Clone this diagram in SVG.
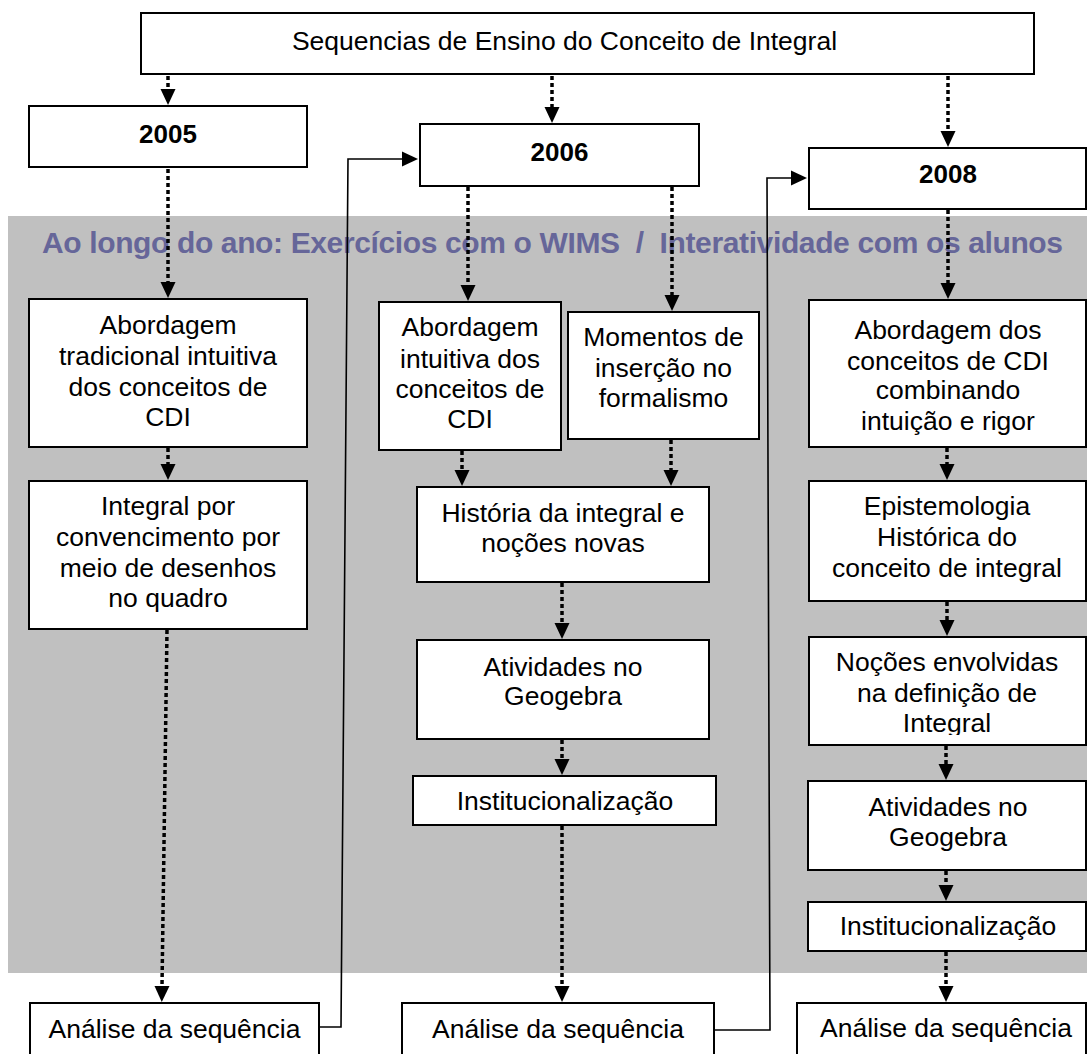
<svg xmlns="http://www.w3.org/2000/svg" width="1087" height="1054" viewBox="0 0 1087 1054">
  <style>
    .box { fill: #ffffff; stroke: #000000; stroke-width: 2; }
    .lbl { font-family: "Liberation Sans", Arial, sans-serif; font-size: 26.5px; fill: #000000; text-anchor: middle; }
    .year { font-family: "Liberation Sans", Arial, sans-serif; font-size: 26px; font-weight: bold; fill: #000000; text-anchor: middle; }
    .banner { font-family: "Liberation Sans", Arial, sans-serif; font-size: 30px; font-weight: bold; fill: #666699; }
    .dot { fill: none; stroke: #000000; stroke-width: 3.5; stroke-dasharray: 4 3; marker-end: url(#head); }
    .solid { fill: none; stroke: #000000; stroke-width: 1.6; marker-end: url(#head); }
  </style>
  <defs>
    <marker id="head" markerUnits="userSpaceOnUse" markerWidth="16" markerHeight="16" refX="0" refY="7.5" orient="auto" overflow="visible">
      <path d="M0,0 L16,7.5 L0,15 z" fill="#000000"/>
    </marker>
    <clipPath id="clipNocoes">
      <rect x="809" y="637" width="278" height="98"/>
    </clipPath>
  </defs>

  <rect width="1087" height="1054" fill="#ffffff"/>

  <!-- shaded band: work carried out all year -->
  <rect x="8" y="216" width="1079" height="757" fill="#c0c0c0"/>
  <text class="banner" x="42" y="253" textLength="1021" lengthAdjust="spacing" xml:space="preserve">Ao longo do ano: Exercícios com o WIMS  /  Interatividade com os alunos</text>

  <!-- connectors -->
  <g id="connectors">
    <path class="dot" d="M168,76 V89"/>
    <path class="dot" d="M552,76 V107"/>
    <path class="dot" d="M948,76 V131"/>
    <path class="dot" d="M168,169 V282"/>
    <path class="dot" d="M468,187 V285"/>
    <path class="dot" d="M672,187 V295"/>
    <path class="dot" d="M948,210 V283"/>
    <path class="dot" d="M168,448 V464"/>
    <path class="dot" d="M167,630 L162,986"/>
    <path class="dot" d="M462,451 V470"/>
    <path class="dot" d="M671,440 V470"/>
    <path class="dot" d="M562,583 V623"/>
    <path class="dot" d="M562,740 V759"/>
    <path class="dot" d="M562,826 V986"/>
    <path class="dot" d="M947,448 V464"/>
    <path class="dot" d="M947,602 V620"/>
    <path class="dot" d="M946,746 V764"/>
    <path class="dot" d="M946,871 V885"/>
    <path class="dot" d="M946,952 V986"/>
    <path class="solid" d="M319,1027 H341 L348,159 H402"/>
    <path class="solid" d="M714,1030 H770 L767,178 H791"/>
  </g>

  <!-- title -->
  <g id="title">
    <rect class="box" x="141" y="13" width="893" height="61"/>
    <text class="lbl" x="564.5" y="50">Sequencias de Ensino do Conceito de Integral</text>
  </g>

  <!-- 2005 column -->
  <g id="y2005">
    <rect class="box" x="29" y="106" width="278" height="61"/>
    <text class="year" x="168" y="143">2005</text>
  </g>
  <g id="abordagem2005">
    <rect class="box" x="29" y="299" width="278" height="148"/>
    <text class="lbl" x="168" y="334">Abordagem</text>
    <text class="lbl" x="168" y="365">tradicional intuitiva</text>
    <text class="lbl" x="168" y="396">dos conceitos de</text>
    <text class="lbl" x="168" y="426">CDI</text>
  </g>
  <g id="integral2005">
    <rect class="box" x="29" y="481" width="278" height="148"/>
    <text class="lbl" x="168" y="515">Integral por</text>
    <text class="lbl" x="168" y="546">convencimento por</text>
    <text class="lbl" x="168" y="577">meio de desenhos</text>
    <text class="lbl" x="168" y="607">no quadro</text>
  </g>
  <g id="analise2005">
    <rect class="box" x="30" y="1003" width="289" height="60"/>
    <text class="lbl" x="174.5" y="1038">Análise da sequência</text>
  </g>

  <!-- 2006 column -->
  <g id="y2006">
    <rect class="box" x="420" y="124" width="279" height="62"/>
    <text class="year" x="559.5" y="161">2006</text>
  </g>
  <g id="abordagem2006">
    <rect class="box" x="379" y="302" width="182" height="148"/>
    <text class="lbl" x="470" y="336">Abordagem</text>
    <text class="lbl" x="470" y="368">intuitiva dos</text>
    <text class="lbl" x="470" y="398">conceitos de</text>
    <text class="lbl" x="470" y="428">CDI</text>
  </g>
  <g id="momentos2006">
    <rect class="box" x="568" y="312" width="191" height="127"/>
    <text class="lbl" x="663.5" y="346">Momentos de</text>
    <text class="lbl" x="663.5" y="377">inserção no</text>
    <text class="lbl" x="663.5" y="407">formalismo</text>
  </g>
  <g id="historia2006">
    <rect class="box" x="417" y="487" width="292" height="95"/>
    <text class="lbl" x="563" y="522">História da integral e</text>
    <text class="lbl" x="563" y="552">noções novas</text>
  </g>
  <g id="geogebra2006">
    <rect class="box" x="417" y="640" width="292" height="99"/>
    <text class="lbl" x="563" y="676">Atividades no</text>
    <text class="lbl" x="563" y="705">Geogebra</text>
  </g>
  <g id="institucional2006">
    <rect class="box" x="413" y="776" width="303" height="49"/>
    <text class="lbl" x="565" y="810">Institucionalização</text>
  </g>
  <g id="analise2006">
    <rect class="box" x="402" y="1003" width="312" height="60"/>
    <text class="lbl" x="558" y="1038">Análise da sequência</text>
  </g>

  <!-- 2008 column -->
  <g id="y2008">
    <rect class="box" x="809" y="148" width="277" height="61"/>
    <text class="year" x="948" y="183">2008</text>
  </g>
  <g id="abordagem2008">
    <rect class="box" x="809" y="300" width="277" height="147"/>
    <text class="lbl" x="948" y="339">Abordagem dos</text>
    <text class="lbl" x="948" y="370">conceitos de CDI</text>
    <text class="lbl" x="948" y="399">combinando</text>
    <text class="lbl" x="948" y="430">intuição e rigor</text>
  </g>
  <g id="epistemologia2008">
    <rect class="box" x="809" y="481" width="277" height="120"/>
    <text class="lbl" x="947" y="515">Epistemologia</text>
    <text class="lbl" x="947" y="546">Histórica do</text>
    <text class="lbl" x="947" y="577">conceito de integral</text>
  </g>
  <g id="nocoes2008">
    <rect class="box" x="809" y="637" width="277" height="108"/>
    <g clip-path="url(#clipNocoes)">
      <text class="lbl" x="947" y="671">Noções envolvidas</text>
      <text class="lbl" x="947" y="702">na definição de</text>
      <text class="lbl" x="947" y="732">Integral</text>
    </g>
  </g>
  <g id="geogebra2008">
    <rect class="box" x="808" y="781" width="278" height="89"/>
    <text class="lbl" x="948" y="816">Atividades no</text>
    <text class="lbl" x="948" y="846">Geogebra</text>
  </g>
  <g id="institucional2008">
    <rect class="box" x="808" y="902" width="278" height="49"/>
    <text class="lbl" x="948" y="935">Institucionalização</text>
  </g>
  <g id="analise2008">
    <rect class="box" x="797" y="1003" width="289" height="60"/>
    <text class="lbl" x="946" y="1037">Análise da sequência</text>
  </g>
</svg>
